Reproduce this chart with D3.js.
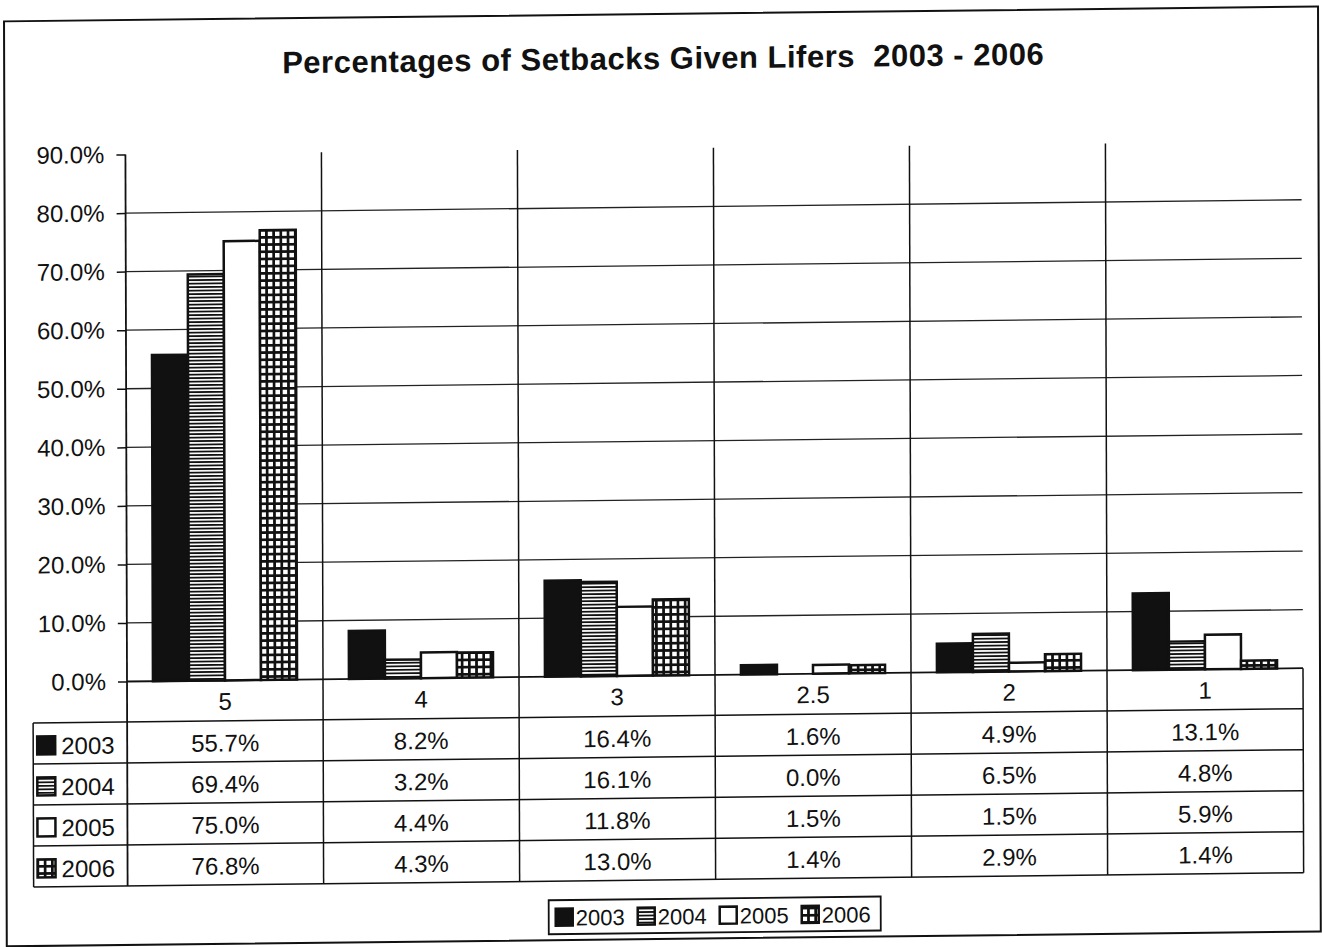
<!DOCTYPE html>
<html>
<head>
<meta charset="utf-8">
<script src="https://cdn.jsdelivr.net/npm/d3@7"></script>
<style>
  html, body { margin: 0; padding: 0; background: #fff; }
  svg { display: block; font-family: "Liberation Sans", Arial, sans-serif; }
</style>
</head>
<body>
<svg id="chart" width="1323" height="947"></svg>
<script>
// Setback lengths (years) and the share of lifers given each, by year
const categories = ["5", "4", "3", "2.5", "2", "1"];
const seriesNames = ["2003", "2004", "2005", "2006"];
const values2003 = [55.7, 8.2, 16.4, 1.6, 4.9, 13.1];
const values2004 = [69.4, 3.2, 16.1, 0.0, 6.5, 4.8];
const values2005 = [75.0, 4.4, 11.8, 1.5, 1.5, 5.9];
const values2006 = [76.8, 4.3, 13.0, 1.4, 2.9, 1.4];
const yTicks = [0, 10, 20, 30, 40, 50, 60, 70, 80, 90];
const titleText = "Percentages of Setbacks Given Lifers  2003 - 2006";

const seriesValues = [values2003, values2004, values2005, values2006];
const fmt = v => v.toFixed(1) + "%";

const svg = d3.select("#chart");
const ink = "#111";

// ---------- fill patterns ----------
const defs = svg.append("defs");
const pStripe = defs.append("pattern").attr("id", "fill2004")
  .attr("patternUnits", "userSpaceOnUse").attr("width", 6).attr("height", 3.5);
pStripe.append("rect").attr("width", 6).attr("height", 3.5).attr("fill", "#fff");
pStripe.append("rect").attr("width", 6).attr("height", 1.8).attr("fill", ink);

const pGrid = defs.append("pattern").attr("id", "fill2006")
  .attr("patternUnits", "userSpaceOnUse").attr("width", 7.2).attr("height", 7.2);
pGrid.append("rect").attr("width", 7.2).attr("height", 7.2).attr("fill", ink);
pGrid.append("rect").attr("x", 2.7).attr("y", 2.7).attr("width", 4.5).attr("height", 4.5).attr("fill", "#fff");

const fills = [ink, "url(#fill2004)", "#fff", "url(#fill2006)"];

// ---------- page, slightly skewed like a sheet on a scanner ----------
const page = svg.append("g")
  .attr("transform", "matrix(1,-0.0113,0.003,1,-2.04,1.44)");

// outer frame
page.append("rect")
  .attr("x", 6).attr("y", 20).attr("width", 1314).attr("height", 925)
  .attr("fill", "none").attr("stroke", ink).attr("stroke-width", 2);

// title
page.append("text")
  .attr("x", 665).attr("y", 75)
  .attr("text-anchor", "middle")
  .style("white-space", "pre")
  .attr("font-size", 31).attr("font-weight", "bold").attr("fill", ink)
  .attr("letter-spacing", 0.5)
  .text(titleText);

// ---------- scales ----------
const plotLeft = 127, plotRight = 1303, plotTop = 154.5, plotBottom = 681.5;
const x = d3.scaleBand().domain(categories).range([plotLeft, plotRight]);
const x1 = d3.scaleBand().domain(seriesNames).range([0, x.bandwidth()])
  .paddingInner(0).paddingOuter(0.72);
const y = d3.scaleLinear().domain([0, 90]).range([plotBottom, plotTop]);

// horizontal gridlines
page.append("g").selectAll("line")
  .data(yTicks.filter(t => t > 0 && t < 90))
  .join("line")
  .attr("x1", plotLeft).attr("x2", plotRight)
  .attr("y1", d => y(d)).attr("y2", d => y(d))
  .attr("stroke", "#222").attr("stroke-width", 1.3);

// table geometry
const rowH = 41;
const catRowBottom = 722;
const rowTops = seriesNames.map((s, i) => catRowBottom + i * rowH);
const tableBottom = catRowBottom + seriesNames.length * rowH;
const keyLeft = 33;

// vertical dividers between categories (plot and table)
const dividers = categories.slice(1).map(c => x(c));
page.append("g").selectAll("line")
  .data(dividers)
  .join("line")
  .attr("x1", d => d).attr("x2", d => d)
  .attr("y1", plotTop).attr("y2", tableBottom)
  .attr("stroke", ink).attr("stroke-width", 1.5);

// ---------- bars ----------
const barG = page.append("g");
seriesNames.forEach((s, i) => {
  barG.append("g").selectAll("rect")
    .data(seriesValues[i].map((v, j) => ({ cat: categories[j], v })))
    .join("rect")
    .attr("x", d => x(d.cat) + x1(s))
    .attr("y", d => y(d.v))
    .attr("width", x1.bandwidth())
    .attr("height", d => y(0) - y(d.v))
    .attr("fill", fills[i])
    .attr("stroke", ink).attr("stroke-width", 2.5);
});

// ---------- value axis ----------
const yAxis = d3.axisLeft(y).tickValues(yTicks).tickSize(9).tickPadding(12)
  .tickFormat(d => fmt(d));
const ax = page.append("g").attr("transform", `translate(${plotLeft},0)`).call(yAxis);
ax.select(".domain").remove();
ax.selectAll(".tick line").attr("stroke", ink).attr("stroke-width", 1.5);
ax.selectAll(".tick text").attr("font-size", 24).attr("fill", ink)
  .attr("font-family", "Liberation Sans, Arial, sans-serif");
page.append("line")
  .attr("x1", plotLeft).attr("x2", plotLeft)
  .attr("y1", plotTop).attr("y2", tableBottom)
  .attr("stroke", ink).attr("stroke-width", 1.8);

// ---------- data table ----------
const tbl = page.append("g");
// top of table / category axis
tbl.append("line").attr("x1", plotLeft).attr("x2", plotRight)
  .attr("y1", plotBottom).attr("y2", plotBottom)
  .attr("stroke", ink).attr("stroke-width", 1.8);
// row lines
tbl.selectAll("line.row")
  .data(rowTops.concat([tableBottom]))
  .join("line").attr("class", "row")
  .attr("x1", keyLeft).attr("x2", plotRight)
  .attr("y1", d => d).attr("y2", d => d)
  .attr("stroke", ink).attr("stroke-width", 1.5);
// outer verticals
tbl.append("line").attr("x1", keyLeft).attr("x2", keyLeft)
  .attr("y1", catRowBottom).attr("y2", tableBottom)
  .attr("stroke", ink).attr("stroke-width", 1.5);
tbl.append("line").attr("x1", plotRight).attr("x2", plotRight)
  .attr("y1", plotBottom).attr("y2", tableBottom)
  .attr("stroke", ink).attr("stroke-width", 1.5);

// category labels
tbl.selectAll("text.cat")
  .data(categories)
  .join("text").attr("class", "cat")
  .attr("x", d => x(d) + x.bandwidth() / 2)
  .attr("y", (plotBottom + catRowBottom) / 2 + 9)
  .attr("text-anchor", "middle")
  .attr("font-size", 24).attr("fill", ink)
  .text(d => d);

// value cells
seriesNames.forEach((s, i) => {
  tbl.append("g").selectAll("text")
    .data(seriesValues[i].map((v, j) => ({ cat: categories[j], v })))
    .join("text")
    .attr("x", d => x(d.cat) + x.bandwidth() / 2)
    .attr("y", rowTops[i] + rowH / 2 + 10)
    .attr("text-anchor", "middle")
    .attr("font-size", 24).attr("fill", ink)
    .text(d => fmt(d.v));
});

// legend keys inside the table
const keySize = 18;
seriesNames.forEach((s, i) => {
  const cy = rowTops[i] + rowH / 2 + 2;
  tbl.append("rect")
    .attr("x", keyLeft + 4).attr("y", cy - keySize / 2)
    .attr("width", keySize).attr("height", keySize)
    .attr("fill", fills[i]).attr("stroke", ink).attr("stroke-width", 2.5);
  tbl.append("text")
    .attr("x", keyLeft + 28).attr("y", cy + 9)
    .attr("font-size", 24).attr("fill", ink)
    .text(s);
});

// ---------- legend ----------
const lg = page.append("g");
const lgX = 548, lgY = 905, lgW = 332, lgH = 34;
lg.append("rect").attr("x", lgX).attr("y", lgY).attr("width", lgW).attr("height", lgH)
  .attr("fill", "#fff").attr("stroke", ink).attr("stroke-width", 1.8);
const itemW = 82;
seriesNames.forEach((s, i) => {
  const ix = lgX + 7 + i * itemW;
  const cy = lgY + lgH / 2;
  lg.append("rect")
    .attr("x", ix).attr("y", cy - 8.5).attr("width", 17).attr("height", 17)
    .attr("fill", fills[i]).attr("stroke", ink).attr("stroke-width", 2.5);
  lg.append("text")
    .attr("x", ix + 20).attr("y", cy + 8.5)
    .attr("font-size", 22).attr("fill", ink)
    .text(s);
});
</script>
</body>
</html>
